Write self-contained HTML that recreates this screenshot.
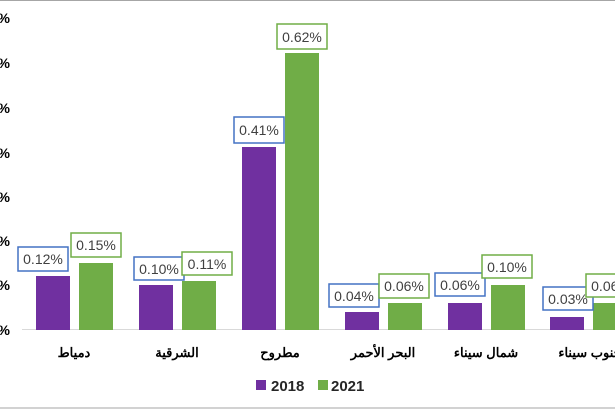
<!DOCTYPE html>
<html><head><meta charset="utf-8"><style>
html,body{margin:0;padding:0;background:#fff;}
svg{display:block;}
text{font-family:"Liberation Sans",sans-serif;}
.ar{font-family:"DejaVu Sans","Liberation Sans",sans-serif;font-weight:bold;font-size:13px;fill:#000;}
.yl{font-size:14px;font-weight:bold;fill:#000;}
.dl{font-size:14px;fill:#404040;}
</style></head><body>
<svg width="615" height="410" viewBox="0 0 615 410" xmlns="http://www.w3.org/2000/svg">
<line x1="0" y1="0.5" x2="615" y2="0.5" stroke="#a6a6a6"/>
<line x1="0" y1="408" x2="615" y2="408" stroke="#a6a6a6"/>
<g class="yl" text-anchor="end">
<text x="10" y="23">0.70%</text><text x="10" y="68">0.60%</text><text x="10" y="113">0.50%</text><text x="10" y="158">0.40%</text><text x="10" y="202">0.30%</text><text x="10" y="246">0.20%</text><text x="10" y="290">0.10%</text><text x="10" y="335">0.00%</text>
</g>
<line x1="22" y1="329.5" x2="615" y2="329.5" stroke="#d9d9d9"/>
<g fill="#7030a0">
<rect x="36" y="276" width="34" height="54"/>
<rect x="139" y="285" width="34" height="45"/>
<rect x="242" y="147" width="34" height="183"/>
<rect x="345" y="312" width="34" height="18"/>
<rect x="448" y="303" width="34" height="27"/>
<rect x="550" y="317" width="34" height="13"/>
</g>
<g fill="#70ad47">
<rect x="79" y="263" width="34" height="67"/>
<rect x="182" y="281" width="34" height="49"/>
<rect x="285" y="53" width="34" height="277"/>
<rect x="388" y="303" width="34" height="27"/>
<rect x="491" y="285" width="34" height="45"/>
<rect x="593" y="303" width="34" height="27"/>
</g>
<g fill="#fff" stroke-width="1.5">
<rect x="18" y="247" width="50" height="24" stroke="#4472c4"/>
<rect x="71" y="233" width="50" height="24" stroke="#70ad47"/>
<rect x="134" y="257" width="50" height="23" stroke="#4472c4"/>
<rect x="182" y="252" width="50" height="23" stroke="#70ad47"/>
<rect x="234" y="117" width="50" height="26" stroke="#4472c4"/>
<rect x="277" y="24" width="50" height="25" stroke="#70ad47"/>
<rect x="329" y="284" width="50" height="23" stroke="#4472c4"/>
<rect x="379" y="274" width="50" height="24" stroke="#70ad47"/>
<rect x="435" y="273" width="50" height="23" stroke="#4472c4"/>
<rect x="482" y="255" width="50" height="23" stroke="#70ad47"/>
<rect x="543" y="287" width="50" height="23" stroke="#4472c4"/>
<rect x="586" y="274" width="50" height="23" stroke="#70ad47"/>
</g>
<g class="dl" text-anchor="middle">
<text x="43" y="264">0.12%</text><text x="96" y="250">0.15%</text>
<text x="159" y="274">0.10%</text><text x="207" y="269">0.11%</text>
<text x="259" y="135">0.41%</text><text x="302" y="42">0.62%</text>
<text x="354" y="301">0.04%</text><text x="404" y="291">0.06%</text>
<text x="460" y="290">0.06%</text><text x="507" y="272">0.10%</text>
<text x="568" y="304">0.03%</text><text x="611" y="291">0.06%</text>
</g>
<g class="ar" text-anchor="middle">
<text x="74" y="357">دمياط</text>
<text x="177" y="357">الشرقية</text>
<text x="280" y="357">مطروح</text>
<text x="383" y="357">البحر الأحمر</text>
<text x="486" y="357">شمال سيناء</text>
<text x="590" y="357">جنوب سيناء</text>
</g>
<rect x="256" y="380" width="10" height="10" fill="#7030a0"/>
<text x="271" y="391" font-size="15" font-weight="bold" fill="#262626">2018</text>
<rect x="318" y="380" width="10" height="10" fill="#70ad47"/>
<text x="331" y="391" font-size="15" font-weight="bold" fill="#262626">2021</text>
</svg>
</body></html>
